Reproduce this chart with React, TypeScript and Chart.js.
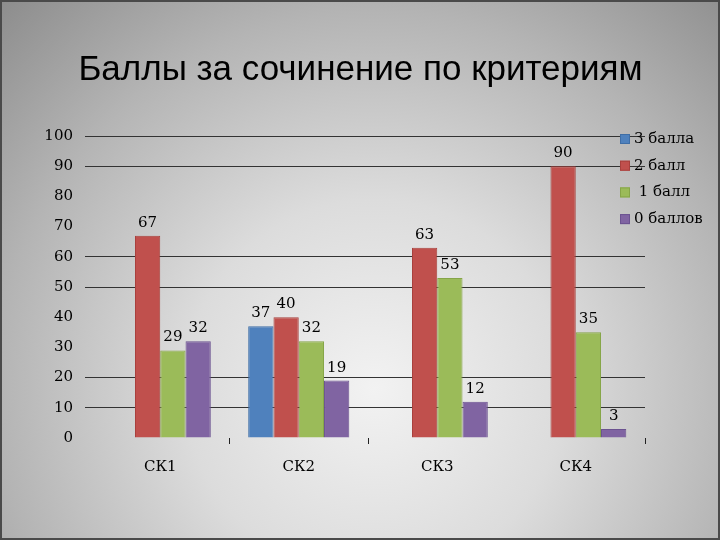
import React, { useEffect, useRef } from "react";
import { Chart, registerables } from "chart.js";

Chart.register(...registerables);

const titleText = "Баллы за сочинение по критериям";
const categories = ["СК1", "СК2", "СК3", "СК4"];
const seriesNames = ["3 балла", "2 балл", " 1 балл", "0 баллов"];
const score3 = [null, 37, null, null];
const score2 = [67, 40, 63, 90];
const score1 = [29, 32, 53, 35];
const score0 = [32, 19, 12, 3];
const seriesColors = ["#4F81BD", "#C0504D", "#9BBB59", "#8064A2"];
const seriesBorders = ["#3f6ea6", "#a8403d", "#86a548", "#6b5290"];
const visibleGridValues = [10, 20, 50, 60, 90, 100];
const boundaryTickVisible = [false, true, true, false, true];

const SERIF = "'DejaVu Serif', 'Liberation Serif', serif";

const slideTitle = {
  id: "slideTitle",
  afterDraw(chart: any) {
    const ctx = chart.ctx;
    ctx.save();
    ctx.font = "35px 'Liberation Sans', Arial, sans-serif";
    ctx.fillStyle = "#000";
    ctx.textAlign = "center";
    ctx.textBaseline = "alphabetic";
    ctx.fillText(titleText, chart.width / 2 + 0.5, 79.5);
    ctx.restore();
  },
};

const valueLabels = {
  id: "valueLabels",
  afterDatasetsDraw(chart: any) {
    const ctx = chart.ctx;
    ctx.save();
    ctx.font = `15px ${SERIF}`;
    ctx.fillStyle = "#000";
    ctx.textAlign = "center";
    ctx.textBaseline = "middle";
    chart.data.datasets.forEach((ds: any, i: number) => {
      const meta = chart.getDatasetMeta(i);
      meta.data.forEach((bar: any, j: number) => {
        const v = ds.data[j];
        if (v === null || v === undefined) return;
        ctx.fillText(String(v), bar.x, bar.y - 13);
      });
    });
    ctx.restore();
  },
};

const insetLegend = {
  id: "insetLegend",
  afterDraw(chart: any) {
    const ctx = chart.ctx;
    const area = chart.chartArea;
    const sx = area.right - 25;
    const y0 = area.top + 3;
    const gap = 26.7;
    ctx.save();
    ctx.font = `15px ${SERIF}`;
    ctx.textAlign = "left";
    ctx.textBaseline = "middle";
    chart.data.datasets.forEach((ds: any, i: number) => {
      const cy = y0 + i * gap;
      ctx.fillStyle = ds.backgroundColor;
      ctx.fillRect(sx, cy - 5, 10, 10);
      ctx.strokeStyle = ds.borderColor;
      ctx.lineWidth = 1;
      ctx.strokeRect(sx + 0.5, cy - 4.5, 9, 9);
      ctx.fillStyle = "#000";
      ctx.fillText(ds.label, sx + 14, cy);
    });
    ctx.restore();
  },
};

export default function App() {
  const canvasRef = useRef<HTMLCanvasElement | null>(null);

  useEffect(() => {
    document.body.style.margin = "0";
    const canvas = canvasRef.current;
    if (!canvas) return;
    const seriesData = [score3, score2, score1, score0];
    const chart = new Chart(canvas, {
      type: "bar",
      data: {
        labels: categories,
        datasets: seriesNames.map((name, i) => ({
          label: name,
          data: seriesData[i],
          backgroundColor: seriesColors[i],
          borderColor: seriesBorders[i],
          borderWidth: 1,
          categoryPercentage: 0.73,
          barPercentage: 1.0,
        })),
      },
      options: {
        responsive: false,
        animation: false,
        layout: { padding: { left: 0, right: 75, top: 136, bottom: 0 } },
        plugins: {
          legend: { display: false },
          tooltip: { enabled: false },
          title: { display: false },
        },
        scales: {
          x: {
            border: { display: false },
            grid: {
              offset: true,
              drawOnChartArea: false,
              drawTicks: true,
              tickLength: 6,
              color: (ctx: any) => {
                const idx = ctx.index === undefined ? 4 : ctx.index;
                return boundaryTickVisible[idx] ? "#222" : "rgba(0,0,0,0)";
              },
            },
            ticks: {
              color: "#000",
              padding: 14,
              font: { family: SERIF, size: 15 },
            },
            afterFit: (scale: any) => {
              scale.height = 102;
            },
          },
          y: {
            min: 0,
            max: 100,
            border: { display: false },
            grid: {
              drawTicks: true,
              tickLength: 6,
              lineWidth: 1,
              color: (ctx: any) =>
                ctx.tick && visibleGridValues.includes(ctx.tick.value) ? "#333" : "rgba(0,0,0,0)",
            },
            ticks: {
              stepSize: 10,
              color: "#000",
              padding: 12,
              font: { family: SERIF, size: 15 },
            },
            afterFit: (scale: any) => {
              scale.width = 91;
            },
          },
        },
      },
      plugins: [valueLabels, insetLegend, slideTitle],
    } as any);
    return () => chart.destroy();
  }, []);

  return (
    <div
      style={{
        position: "fixed",
        left: 0,
        top: 0,
        width: 720,
        height: 540,
        background:
          "radial-gradient(ellipse 75% 100% at 52% 72%, #f2f2f2 0%, #dcdcdc 35%, #b4b4b4 70%, #8c8c8c 100%)",
      }}
    >
      <canvas ref={canvasRef} width={720} height={540} style={{ position: "absolute", left: 0, top: 0 }} />
      <div
        style={{
          position: "absolute",
          left: 0,
          top: 0,
          width: 720,
          height: 540,
          boxSizing: "border-box",
          border: "2px solid #4a4a4a",
          pointerEvents: "none",
        }}
      />
    </div>
  );
}
